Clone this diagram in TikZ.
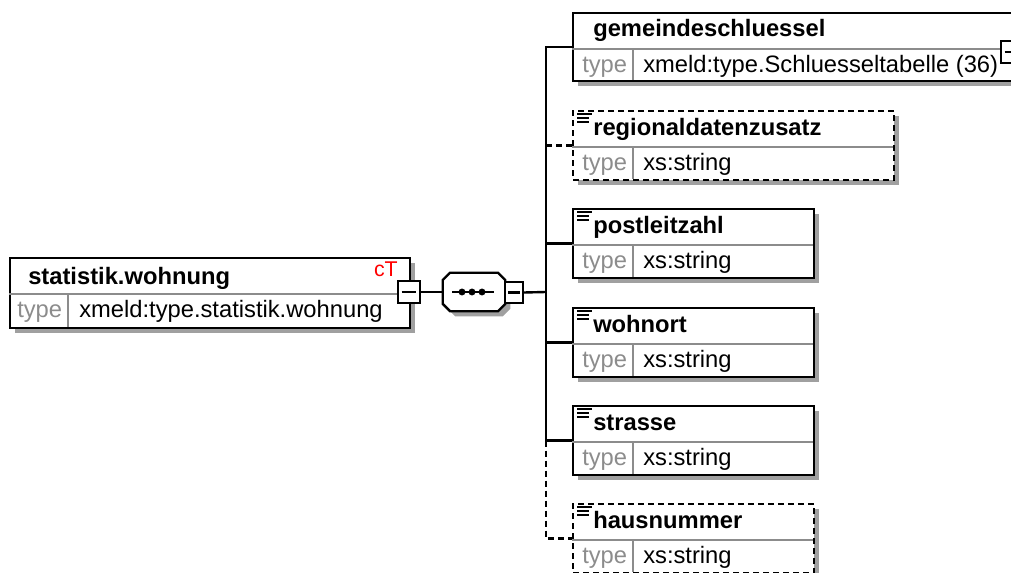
\documentclass[tikz,border=0pt]{standalone}
\usepackage{fontspec}
\setmainfont{Liberation Sans}
\newfontfamily\ctfont{Liberation Sans}
\usetikzlibrary{shadows}

\newcommand{\pxu}{0.75pt}
\definecolor{rulegray}{HTML}{8C8C8C}
\definecolor{shadegray}{HTML}{A0A0A0}
\definecolor{ctred}{HTML}{FF0000}

% octagon outline round a node, corners cut by 5.5pt
\newcommand{\octpath}[1]{([xshift=5.5pt]#1.north west) -- ([xshift=-5.5pt]#1.north east)
  -- ([yshift=-5.5pt]#1.north east) -- ([yshift=5.5pt]#1.south east)
  -- ([xshift=-5.5pt]#1.south east) -- ([xshift=5.5pt]#1.south west)
  -- ([yshift=5.5pt]#1.south west) -- ([yshift=-5.5pt]#1.north west) -- cycle}

\tikzset{
  elembox/.style={draw, line width=1.8pt, fill=white, anchor=north west, inner sep=0pt,
    minimum height=69*\pxu,
    drop shadow={shadow xshift=3.75pt, shadow yshift=-3.75pt, fill=shadegray, opacity=1}},
  optbox/.style={elembox, dash pattern=on 4.5pt off 3pt},
  rowline/.style={rulegray, line width=1.3pt},
  title/.style={font=\bfseries\fontsize{17.8}{20}\selectfont, anchor=base west, inner sep=0pt},
  typekey/.style={font=\fontsize{17.8}{20}\selectfont, text=rulegray, anchor=base west, inner sep=0pt},
  typeval/.style={font=\fontsize{17.8}{20}\selectfont, anchor=base west, inner sep=0pt},
  ctmark/.style={font=\ctfont\fontsize{16}{18}\selectfont, text=ctred, anchor=base east, inner sep=0pt},
  minusbox/.style={draw, line width=1.6pt, fill=white, minimum size=16pt, inner sep=0pt},
  minusbar/.style={line width=1.6pt},
  wire/.style={line width=1.8pt},
  optwire/.style={wire, dash pattern=on 4.5pt off 3pt},
}

\begin{document}
\begin{tikzpicture}[x=\pxu, y=-\pxu]
  \useasboundingbox (0,0) rectangle (1011,573);
  \clip (0,0) rectangle (1011,573);

  % sequence compositor and bus
  \coordinate (bus) at (546,292);
  \node[inner sep=0pt, minimum width=62*\pxu, minimum height=38*\pxu] (seq) at (474,292) {};
  \fill[shadegray, transform canvas={shift={(3.75pt,-3.75pt)}}] \octpath{seq};
  \filldraw[fill=white, line width=1.8pt] \octpath{seq};
  \draw[line width=1.3pt] (452,292) -- (494,292);
  \foreach \dx in {462,472,482}
    \fill (\dx,292) circle (2.6pt);
  \node[minusbox, minimum width=18*\pxu] (mseq) at (514,292.5) {};
  \draw[minusbar] ([xshift=-4.5pt]mseq.center) -- ([xshift=4.5pt]mseq.center);

  % root element
  \node[elembox, minimum width=400*\pxu, minimum height=70*\pxu] (root) at (9,257) {};
  \draw[rowline] (9,294) -- (409,294);
  \draw[rowline] (68,294) -- (68,327);
  \node[title] (root-n) at (28,285) {statistik.wohnung};
  \node[ctmark] (root-ct) at (398,277) {cT};
  \node[typekey] (root-k) at (17,318) {type};
  \node[typeval] (root-v) at (79,318) {xmeld:type.statistik.wohnung};
  \node[minusbox] (mroot) at (409,292) {};
  \draw[minusbar] ([xshift=-5.5pt]mroot.center) -- ([xshift=5.5pt]mroot.center);

  \draw[line width=1.3pt] (mroot.east) -- (seq.west);
  \draw[wire] (mseq.east) -- (bus);

  % child elements
  \node[elembox, minimum width=440*\pxu, minimum height=68*\pxu] (gemeinde) at (572,12) {};
  \draw[rowline] (572,49) -- (1012,49);
  \draw[rowline] (633,49) -- (633,80);
  \node[title] (gemeinde-n) at (593,37) {gemeindeschluessel};
  \node[typekey] (gemeinde-k) at (582,73) {type};
  \node[typeval] (gemeinde-v) at (643,73) {xmeld:type.Schluesseltabelle (36)};
  \node[minusbox] (mgemeinde) at (1012,52) {};
  \draw[minusbar] ([xshift=-5.5pt]mgemeinde.center) -- ([xshift=5.5pt]mgemeinde.center);

  \foreach \nm/\ty/\bw/\lbl/\sty in {%
      region/110/321/regionaldatenzusatz/optbox,
      plz/208/241/postleitzahl/elembox,
      ort/307/241/wohnort/elembox,
      str/405/241/strasse/elembox,
      hnr/503/241/hausnummer/optbox} {
    \node[\sty, minimum width=\bw*\pxu] (\nm) at (572,\ty) {};
    \draw[rowline] (572,\ty+37) -- (572+\bw,\ty+37);
    \draw[rowline] (633,\ty+37) -- (633,\ty+69);
    \draw[line width=1.5pt] (577,\ty+4.5) -- (592,\ty+4.5)
      (577,\ty+8.5) -- (589,\ty+8.5) (577,\ty+12.5) -- (589,\ty+12.5);
    \node[title] (\nm-n) at (593,\ty+26) {\lbl};
    \node[typekey] (\nm-k) at (582,\ty+61) {type};
    \node[typeval] (\nm-v) at (643,\ty+61) {xs:string};
  }

  % bus connectors
  \draw[wire] (gemeinde.west) -- (gemeinde.west -| bus) -- (str.west -| bus) -- (str.west);
  \draw[optwire] (region.west) -- (region.west -| bus);
  \draw[wire] (plz.west) -- (plz.west -| bus);
  \draw[wire] (ort.west) -- (ort.west -| bus);
  \draw[optwire] (str.west -| bus) |- (hnr.west);
\end{tikzpicture}
\end{document}
